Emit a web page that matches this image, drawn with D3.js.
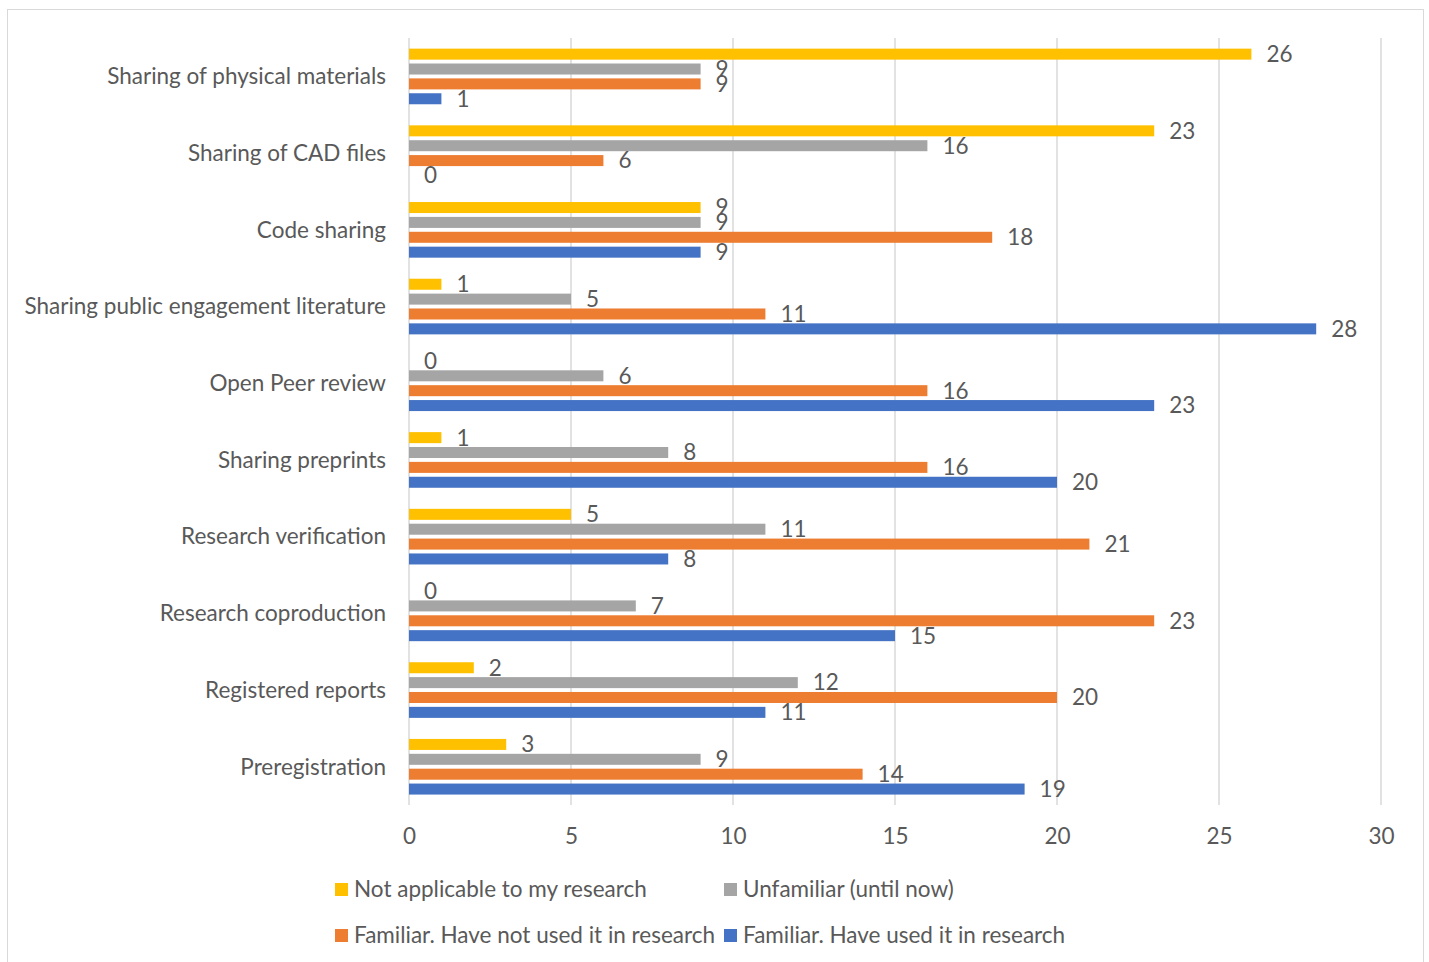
<!DOCTYPE html>
<html>
<head>
<meta charset="utf-8">
<script src="https://cdn.jsdelivr.net/npm/d3@7"></script>
<style>
  html, body { margin: 0; padding: 0; background: #fff; }
  svg text { font-family: "Lato", "Open Sans", sans-serif; fill: #595959; }
</style>
</head>
<body>
<svg id="chart" width="1429" height="962"></svg>
<script>
// Categories, top to bottom
const categories = [
  "Sharing of physical materials",
  "Sharing of CAD files",
  "Code sharing",
  "Sharing public engagement literature",
  "Open Peer review",
  "Sharing preprints",
  "Research verification",
  "Research coproduction",
  "Registered reports",
  "Preregistration"
];

const seriesNames = [
  "Not applicable to my research",
  "Unfamiliar (until now)",
  "Familiar. Have not used it in research",
  "Familiar. Have used it in research"
];

const notApplicable = [26, 23, 9, 1, 0, 1, 5, 0, 2, 3];
const unfamiliar    = [9, 16, 9, 5, 6, 8, 11, 7, 12, 9];
const familiarNotUsed = [9, 6, 18, 11, 16, 16, 21, 23, 20, 14];
const familiarUsed  = [1, 0, 9, 28, 23, 20, 8, 15, 11, 19];

const seriesColors = ["#FFC000", "#A5A5A5", "#ED7D31", "#4472C4"];
const xTicks = [0, 5, 10, 15, 20, 25, 30];

const seriesValues = [notApplicable, unfamiliar, familiarNotUsed, familiarUsed];

const FONT = "22.5px";

const svg = d3.select("#chart");

// Outer frame
svg.append("rect")
  .attr("x", 7.5).attr("y", 9.5)
  .attr("width", 1416).attr("height", 970)
  .attr("fill", "none").attr("stroke", "#d9d9d9").attr("stroke-width", 1);

const plot = { left: 409, right: 1381, top: 38, bottom: 805 };

const x = d3.scaleLinear().domain([0, 30]).range([plot.left, plot.right]);
const y = d3.scaleBand().domain(categories).range([plot.top, plot.bottom]).paddingInner(0).paddingOuter(0);
const inner = d3.scaleBand().domain(d3.range(4)).range([8.7, 68.2]).paddingInner(0.26).paddingOuter(0.13);

// Vertical gridlines
svg.append("g")
  .selectAll("line")
  .data(xTicks)
  .join("line")
  .attr("x1", d => x(d)).attr("x2", d => x(d))
  .attr("y1", plot.top).attr("y2", plot.bottom)
  .attr("stroke", "#d9d9d9").attr("stroke-width", 1.5);

// X axis labels
const xAxis = d3.axisBottom(x).tickValues(xTicks).tickSize(0).tickPadding(0);
const gx = svg.append("g").attr("transform", `translate(0, ${plot.bottom + 31})`).call(xAxis);
gx.select(".domain").remove();
gx.selectAll("text")
  .attr("dy", "0.35em")
  .style("font-size", FONT)
  .attr("fill", "#595959");

// Category labels
svg.append("g")
  .selectAll("text")
  .data(categories)
  .join("text")
  .attr("x", 386)
  .attr("y", d => y(d) + y.bandwidth() / 2)
  .attr("dy", "0.35em")
  .attr("text-anchor", "end")
  .style("font-size", FONT)
  .text(d => d);

// Bars and value labels
seriesValues.forEach((vals, si) => {
  const g = svg.append("g");
  g.selectAll("rect")
    .data(vals)
    .join("rect")
    .attr("x", x(0))
    .attr("y", (d, i) => y(categories[i]) + inner(si))
    .attr("width", d => x(d) - x(0))
    .attr("height", inner.bandwidth())
    .attr("fill", seriesColors[si]);
  g.selectAll("text")
    .data(vals)
    .join("text")
    .attr("x", d => x(d) + 15)
    .attr("y", (d, i) => y(categories[i]) + inner(si) + inner.bandwidth() / 2)
    .attr("dy", "0.35em")
    .style("font-size", FONT)
    .text(d => d);
});

// Legend
const legendItems = [
  { name: seriesNames[0], color: seriesColors[0], x: 335, y: 889 },
  { name: seriesNames[1], color: seriesColors[1], x: 724, y: 889 },
  { name: seriesNames[2], color: seriesColors[2], x: 335, y: 935 },
  { name: seriesNames[3], color: seriesColors[3], x: 724, y: 935 }
];
const lg = svg.append("g").selectAll("g").data(legendItems).join("g")
  .attr("transform", d => `translate(${d.x}, ${d.y})`);
lg.append("rect")
  .attr("x", 0).attr("y", -6).attr("width", 13).attr("height", 13)
  .attr("fill", d => d.color);
lg.append("text")
  .attr("x", 19).attr("y", 0).attr("dy", "0.35em")
  .style("font-size", FONT)
  .text(d => d.name);
</script>
</body>
</html>
